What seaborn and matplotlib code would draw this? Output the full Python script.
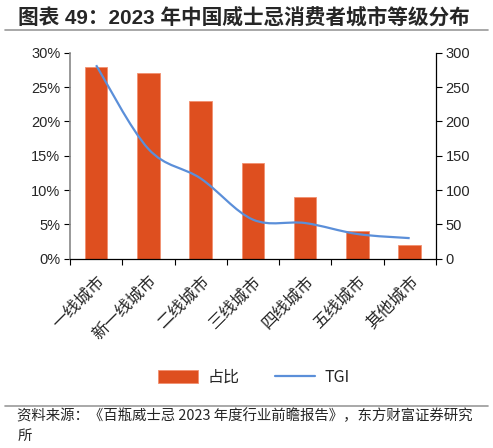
import numpy as np
import pandas as pd
import matplotlib
matplotlib.use("Agg")
import matplotlib.pyplot as plt
import seaborn as sns
from matplotlib.path import Path
from matplotlib.patches import PathPatch, Patch
from matplotlib.lines import Line2D
from matplotlib.ticker import FuncFormatter, FixedLocator

cities = ["一线城市", "新一线城市", "二线城市", "三线城市", "四线城市", "五线城市", "其他城市"]
share = [28, 27, 23, 14, 9, 4, 2]          # 占比 (%)
tgi = [282, 160, 117, 57, 52, 36, 30]      # TGI

bar_color = "#DE4F1F"
line_color = "#5B8FD9"

sns.set_style("ticks")
plt.rcParams["font.family"] = ["Liberation Sans", "Noto Sans CJK SC"]

fig = plt.figure(figsize=(4.93, 4.48), dpi=100)
ax = fig.add_axes([0.142, 0.4225, 0.742, 0.4595])

df = pd.DataFrame({"city": cities, "share": share})
sns.barplot(data=df, x="city", y="share", color=bar_color, saturation=1,
            width=0.43, ax=ax, edgecolor="#F29070", linewidth=0.6)
ax.set_xlim(-0.5, len(cities) - 0.5)
ax.set_ylim(0, 30)
ax.set_yticks(range(0, 31, 5))
ax.yaxis.set_major_formatter(FuncFormatter(lambda v, p: f"{v:.0f}%"))
ax.set_xlabel("")
ax.set_ylabel("")

# category labels, ticks between categories
ax.tick_params(axis="x", which="major", length=0, pad=10)
ax.xaxis.set_minor_locator(FixedLocator(np.arange(-0.5, len(cities), 1.0)))
ax.tick_params(axis="x", which="minor", length=4, width=0.8, color="black", direction="out")
ax.set_xticks(range(len(cities)))
ax.set_xticklabels(cities, rotation=45, ha="right", rotation_mode="anchor",
                   family=["Noto Sans CJK SC"], fontsize=12)
ax.tick_params(axis="y", length=4, width=0.8, color="black", labelsize=10.5, pad=3)

ax.spines["top"].set_visible(False)
ax.spines["right"].set_visible(False)
ax.spines["left"].set_color("#888888")
ax.spines["left"].set_linewidth(1.2)
ax.spines["bottom"].set_color("black")
ax.spines["bottom"].set_linewidth(0.9)

ax2 = ax.twinx()
ax2.set_ylim(0, 300)
ax2.set_yticks(range(0, 301, 50))
ax2.tick_params(axis="y", length=4, width=0.8, color="black", labelsize=10.5, pad=3)
for s in ["top", "left", "bottom"]:
    ax2.spines[s].set_visible(False)
ax2.spines["right"].set_color("black")
ax2.spines["right"].set_linewidth(0.9)

# smoothed TGI line (Excel-style Catmull-Rom as Bezier curves)
pts = np.column_stack([np.arange(len(tgi), dtype=float), np.array(tgi, dtype=float)])
verts = [pts[0]]
codes = [Path.MOVETO]
n = len(pts)
for i in range(n - 1):
    p0 = pts[i - 1] if i > 0 else pts[i]
    p1 = pts[i]
    p2 = pts[i + 1]
    p3 = pts[i + 2] if i + 2 < n else pts[i + 1]
    c1 = p1 + (p2 - p0) / 6
    c2 = p2 - (p3 - p1) / 6
    verts += [c1, c2, p2]
    codes += [Path.CURVE4] * 3
ax2.add_patch(PathPatch(Path(verts, codes), facecolor="none",
                        edgecolor=line_color, linewidth=1.6))

handles = [Patch(facecolor=bar_color, edgecolor="#F29070", linewidth=0.6),
           Line2D([0], [0], color=line_color, lw=1.6)]
fig.legend(handles, ["占比", "TGI"], loc="center", bbox_to_anchor=(0.515, 0.158),
           ncol=2, frameon=False, handlelength=2.5, handleheight=0.9,
           handletextpad=0.6, columnspacing=2.2,
           prop={"family": ["Noto Sans CJK SC"], "size": 11.5})

# title and source
fig.text(0.037, 0.962, "图表 49：2023 年中国威士忌消费者城市等级分布", fontsize=14.9,
         fontweight="bold", ha="left", va="center")
fig.add_artist(Line2D([0.01, 0.99], [0.932, 0.932], color="#999999", lw=1.2))
fig.add_artist(Line2D([0.01, 0.99], [0.094, 0.094], color="#999999", lw=1.2))
fig.text(0.035, 0.071, "资料来源：《百瓶威士忌 2023 年度行业前瞻报告》，东方财富证券研究",
         fontsize=10.4, ha="left", va="center", family=["Noto Sans CJK SC"])
fig.text(0.035, 0.027, "所", fontsize=10.4, ha="left", va="center", family=["Noto Sans CJK SC"])

fig.savefig("out.png", dpi=100)
